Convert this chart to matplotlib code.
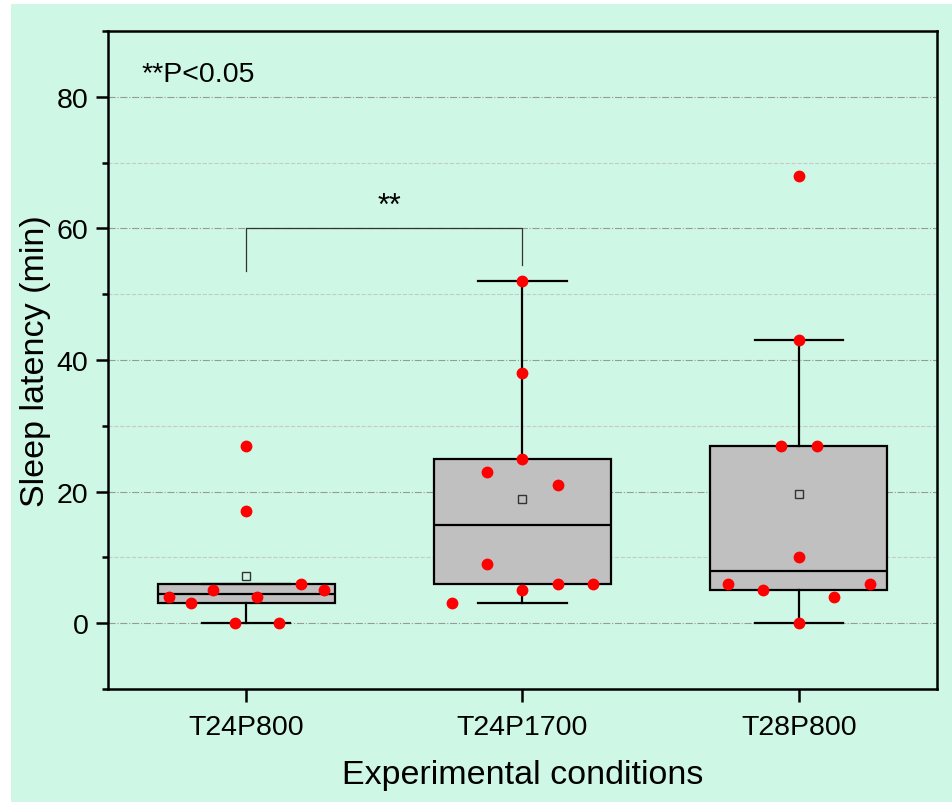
import matplotlib
matplotlib.use('Agg')
import matplotlib.pyplot as plt
import numpy as np
from matplotlib.patches import Rectangle
from matplotlib.ticker import MultipleLocator

plt.rcParams['font.family'] = ['Liberation Sans', 'DejaVu Sans']

conditions = ['T24P800', 'T24P1700', 'T28P800']
t24p800 = [27, 17, 4, 3, 5, 0, 4, 0, 6, 5]
t24p1700 = [52, 38, 25, 23, 21, 9, 5, 6, 6, 3]
t28p800 = [68, 43, 27, 27, 10, 6, 5, 4, 6, 0]
# horizontal spread of the points around each box centre
jitter_t24p800 = [0, 0, -0.28, -0.2, -0.12, -0.04, 0.04, 0.12, 0.2, 0.28]
jitter_t24p1700 = [0, 0, 0, -0.128, 0.128, -0.128, 0, 0.128, 0.256, -0.256]
jitter_t28p800 = [0, 0, -0.064, 0.064, 0, -0.256, -0.128, 0.128, 0.256, 0]

groups = [t24p800, t24p1700, t28p800]
jitters = [jitter_t24p800, jitter_t24p1700, jitter_t28p800]

bg = '#cef7e6'


def tukey_stats(vals, label):
    v = np.sort(np.asarray(vals, dtype=float))
    n = len(v)
    half = (n + 1) // 2
    q1 = np.median(v[:half])
    q3 = np.median(v[n - half:])
    iqr = q3 - q1
    lo = v[v >= q1 - 1.5 * iqr].min()
    hi = v[v <= q3 + 1.5 * iqr].max()
    return dict(med=np.median(v), q1=q1, q3=q3, whislo=lo, whishi=hi,
                mean=v.mean(), fliers=[], label=label)


fig = plt.figure(figsize=(9.53, 8.03), dpi=100)
fig.patches.append(Rectangle((11 / 953, 0), 1, 1 - 5 / 803, transform=fig.transFigure,
                             facecolor=bg, edgecolor='none', zorder=-10))
ax = fig.add_axes([108 / 953, 1 - 690 / 803, (937 - 108) / 953, (690 - 32) / 803])
ax.set_facecolor(bg)

stats = [tukey_stats(g, c) for g, c in zip(groups, conditions)]
pos = np.arange(1, len(groups) + 1)
ax.bxp(stats, positions=pos, widths=0.64, patch_artist=True, showmeans=False,
       showfliers=False,
       boxprops=dict(facecolor='#c0c0c0', edgecolor='black', linewidth=1.6),
       medianprops=dict(color='black', linewidth=1.6),
       whiskerprops=dict(color='black', linewidth=1.6),
       capprops=dict(color='black', linewidth=1.6),
       capwidths=0.32, zorder=2)

for p, g, j in zip(pos, groups, jitters):
    ax.plot(p + np.asarray(j), g, 'o', color='red', markersize=8.5,
            markeredgewidth=0, zorder=3)

# mean squares on top of the points
for p, s in zip(pos, stats):
    ax.plot(p, s['mean'], 's', markerfacecolor='none', markeredgecolor='#333333',
            markersize=6, markeredgewidth=1.0, zorder=4)

ax.set_xlim(0.5, 3.5)
ax.set_ylim(-10, 90)
ax.yaxis.set_major_locator(MultipleLocator(20))
ax.yaxis.set_minor_locator(MultipleLocator(10))
ax.set_xticks(pos)
ax.set_xticklabels(conditions)

ax.grid(True, which='major', axis='y', linestyle='-.', color='#999999', linewidth=0.8)
ax.grid(True, which='minor', axis='y', linestyle='--', color='#c8c8c8', linewidth=0.8)
ax.set_axisbelow(True)

for sp in ax.spines.values():
    sp.set_linewidth(1.8)
ax.tick_params(axis='y', which='major', direction='out', length=9, width=1.8,
               labelsize=20.5, pad=5)
ax.tick_params(axis='x', which='major', direction='out', length=9, width=1.8,
               labelsize=20.5, pad=9)
ax.tick_params(axis='y', which='minor', direction='out', length=4.5, width=1.8)
ax.tick_params(axis='x', which='minor', bottom=False)

ax.set_xlabel('Experimental conditions', fontsize=24.5, labelpad=14)
ax.set_ylabel('Sleep latency (min)', fontsize=24.5, labelpad=4)

# significance bracket
ax.plot([1, 1, 2, 2], [53.6, 60, 60, 54.4], color='#333333', linewidth=0.9, zorder=3)
ax.text(1.52, 63.4, '**', ha='center', va='center', fontsize=22)
ax.text(0.62, 83.5, '**P<0.05', ha='left', va='center', fontsize=20.5)

fig.savefig('out.png', dpi=100)
